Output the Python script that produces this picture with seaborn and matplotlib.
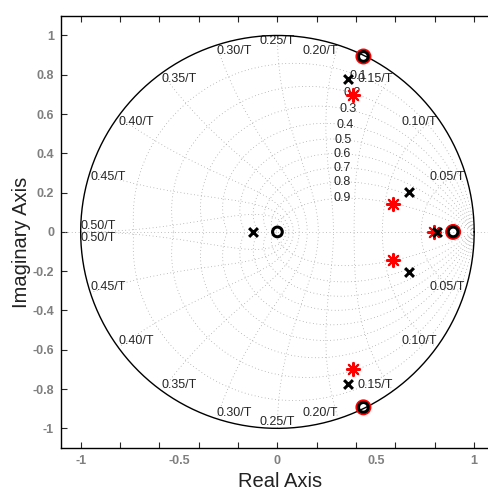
import numpy as np
import matplotlib
matplotlib.use("Agg")
import matplotlib.pyplot as plt
import seaborn as sns

# Poles and zeros
pole_re = [0.36, 0.36, 0.67, 0.67, 0.812, -0.122]
pole_im = [0.776, -0.776, 0.204, -0.204, 0.0, 0.0]
zero_re = [0.0, 0.893, 0.437, 0.437]
zero_im = [0.0, 0.0, 0.893, -0.893]
red_pole_re = [0.386, 0.386, 0.589, 0.589, 0.797]
red_pole_im = [0.697, -0.697, 0.143, -0.143, 0.0]
red_zero_re = [0.893, 0.437, 0.437]
red_zero_im = [0.0, 0.893, -0.893]

# zgrid settings
zeta_values = [0.1, 0.2, 0.3, 0.4, 0.5, 0.6, 0.7, 0.8, 0.9]
wn_steps = [1, 2, 3, 4, 5, 6, 7, 8, 9, 10]  # wn*T = k*pi/10
wn_labels = ['0.05/T', '0.10/T', '0.15/T', '0.20/T', '0.25/T',
             '0.30/T', '0.35/T', '0.40/T', '0.45/T', '0.50/T']

x_tick_labels = ['-1', '-0.5', '0', '0.5', '1']

sns.set_style("ticks")
plt.rcParams['font.family'] = ['Liberation Sans', 'DejaVu Sans']
plt.rcParams['axes.unicode_minus'] = False

fig = plt.figure(figsize=(4.88, 4.90), dpi=100)
ax = fig.add_axes([0.125, 0.0857, 0.887, 0.882])

grid_kw = dict(color='#9a9a9a', lw=0.55, ls=(0, (1, 3.5)), zorder=1)

# damping ratio curves
for zeta in zeta_values:
    wd = np.sqrt(1 - zeta ** 2)
    wn = np.linspace(0, np.pi / wd, 300)
    z = np.exp(-zeta * wn + 1j * wn * wd)
    ax.plot(z.real, z.imag, **grid_kw)
    ax.plot(z.real, -z.imag, **grid_kw)
    wl = 0.35 * np.pi
    zl = np.exp(-zeta * wl + 1j * wl * wd)
    ax.text(zl.real, zl.imag, f'{zeta:g}', ha='center', va='center', fontsize=9, zorder=2)

# natural frequency curves
for k, lab in zip(wn_steps, wn_labels):
    wn = k * np.pi / 10
    zeta = np.linspace(0, 1, 200)
    z = np.exp(-zeta * wn + 1j * wn * np.sqrt(1 - zeta ** 2))
    ax.plot(z.real, z.imag, **grid_kw)
    ax.plot(z.real, -z.imag, **grid_kw)
    p = np.exp(1j * wn)
    if k < 5:
        ha = 'right'
    elif k == 5:
        ha = 'center'
    else:
        ha = 'left'
    if k == 10:
        va_up, va_dn = 'bottom', 'top'
    else:
        va_up, va_dn = 'top', 'bottom'
    ax.text(p.real, p.imag, lab, ha=ha, va=va_up, fontsize=9, zorder=2)
    ax.text(p.real, -p.imag, lab, ha=ha, va=va_dn, fontsize=9, zorder=2)

ax.axhline(0, **grid_kw)

# unit circle
theta = np.linspace(0, 2 * np.pi, 500)
ax.plot(np.cos(theta), np.sin(theta), color='black', lw=1, zorder=2)

# markers
sns.scatterplot(x=red_zero_re, y=red_zero_im, ax=ax, marker='o', s=100,
                facecolor='none', edgecolor='red', linewidth=1.5, zorder=3)
sns.scatterplot(x=red_pole_re, y=red_pole_im, ax=ax, marker=(8, 2, 0), s=90,
                color='red', linewidth=1.5, zorder=3)
sns.scatterplot(x=zero_re, y=zero_im, ax=ax, marker='o', s=49,
                facecolor='none', edgecolor='black', linewidth=2.2, zorder=4)
sns.scatterplot(x=pole_re, y=pole_im, ax=ax, marker='x', s=40,
                color='black', linewidth=2.2, zorder=4)

ax.set_xlim(-1.1, 1.1)
ax.set_ylim(-1.1, 1.1)

ax.set_xticks([-1, -0.5, 0, 0.5, 1])
ax.set_xticklabels(x_tick_labels)
ax.set_xticks(np.round(np.arange(-1, 1.01, 0.2), 1), minor=True)
ax.xaxis.remove_overlapping_locs = False
ax.tick_params(axis='x', which='major', length=0, pad=5)
ax.tick_params(axis='x', which='minor', length=4, width=0.8, direction='in',
               top=True, bottom=True)

yt = np.round(np.arange(-1, 1.01, 0.2), 1) + 0.0
ax.set_yticks(yt)
ax.set_yticklabels([f'{v:g}' if abs(v) > 1e-9 else '0' for v in yt])
ax.tick_params(axis='y', direction='in', length=4, width=0.8, left=True, right=True, pad=5)
ax.tick_params(labelcolor='#7f7f7f', labelsize=9)
for lab in ax.get_xticklabels() + ax.get_yticklabels():
    lab.set_fontweight('bold')

for sp in ax.spines.values():
    sp.set_color('black')
    sp.set_linewidth(1)

ax.set_xlabel('Real Axis', fontsize=14.5, color='#222222')
ax.set_ylabel('Imaginary Axis', fontsize=14.5, color='#222222')
ax.xaxis.set_label_coords(0.505, -0.055)
ax.yaxis.set_label_coords(-0.07, 0.475)

fig.savefig('out.png', dpi=100)
